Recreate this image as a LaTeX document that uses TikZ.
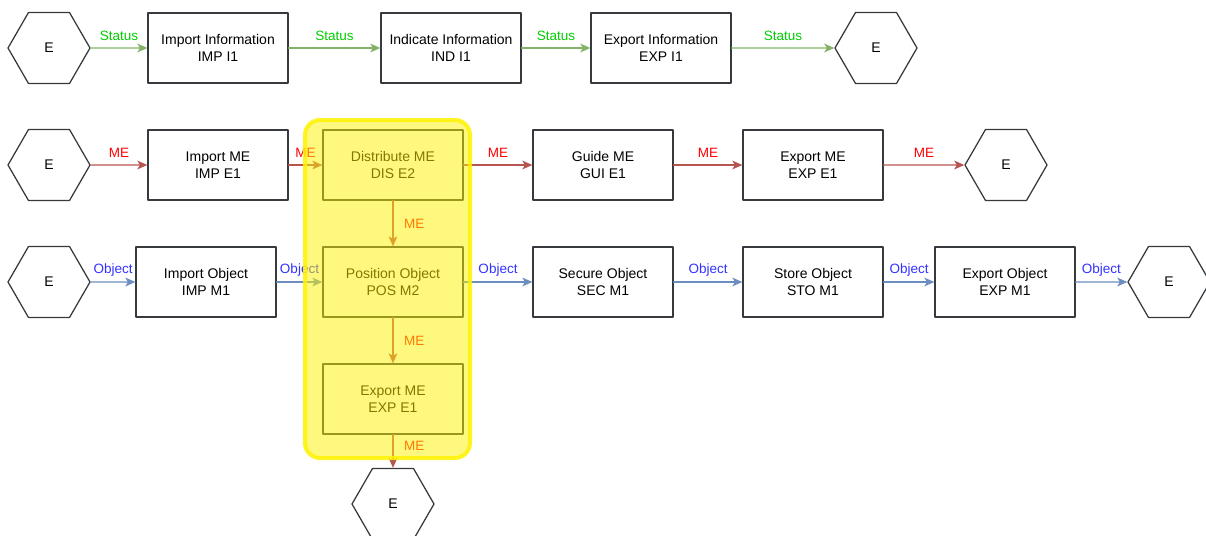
\documentclass[tikz,border=0pt]{standalone}
\usepackage{fontspec}
\setmainfont{Liberation Sans}
\usetikzlibrary{arrows.meta,shapes.geometric}

\definecolor{boxline}{HTML}{36393D}
\definecolor{statusline}{HTML}{82B366}
\definecolor{statustext}{HTML}{00CC00}
\definecolor{meline}{HTML}{B85450}
\definecolor{metext}{HTML}{FF0000}
\definecolor{objline}{HTML}{6C8EBF}
\definecolor{objtext}{HTML}{3333FF}

\tikzset{
  block/.style={draw=boxline, line width=1pt, minimum width=112pt, minimum height=56pt,
    inner sep=0pt, align=center, font=\fontsize{11.2pt}{13.6pt}\selectfont},
  ends/.style={draw=boxline, line width=1pt, regular polygon, regular polygon sides=6,
    minimum size=65.6pt, inner sep=0pt, font=\fontsize{11.2pt}{13.6pt}\selectfont},
  flow/.style={line width=1.1pt, -{Stealth[length=8pt,width=7pt,inset=2pt]}},
  statusflow/.style={flow, statusline},
  meflow/.style={flow, meline},
  objflow/.style={flow, objline},
  flowlab/.style={midway, font=\fontsize{10.8pt}{13pt}\selectfont},
  statuslab/.style={flowlab, above=2pt, text=statustext},
  melab/.style={flowlab, above=2pt, text=metext},
  objlab/.style={flowlab, above=0.5pt, text=objtext},
  downlab/.style={flowlab, right=5pt, text=metext}
}

\begin{document}
\begin{tikzpicture}[line cap=round, line join=round, x=0.8pt, y=-0.8pt]
  \clip (0,0) rectangle (1206,536);

  % information row
  \node[ends]  (inI)  at (49,48)  {E};
  \node[block] (impI) at (218,48) {Import Information\\IMP I1};
  \node[block] (indI) at (451,48) {Indicate Information\\IND I1};
  \node[block] (expI) at (661,48) {Export Information\\EXP I1};
  \node[ends]  (outI) at (876,48) {E};

  % ME row, with the branch down through the highlighted column
  \node[ends]  (inE)  at (49,165)   {E};
  \node[block] (impE) at (218,165)  {Import ME\\IMP E1};
  \node[block] (disE) at (393,165)  {Distribute ME\\DIS E2};
  \node[block] (guiE) at (603,165)  {Guide ME\\GUI E1};
  \node[block] (expE) at (813,165)  {Export ME\\EXP E1};
  \node[ends]  (outE) at (1006,165) {E};

  % object row
  \node[ends]  (inM)  at (49,282)   {E};
  \node[block] (impM) at (206,282)  {Import Object\\IMP M1};
  \node[block] (posM) at (393,282)  {Position Object\\POS M2};
  \node[block] (secM) at (603,282)  {Secure Object\\SEC M1};
  \node[block] (stoM) at (813,282)  {Store Object\\STO M1};
  \node[block] (expM) at (1005,282) {Export Object\\EXP M1};
  \node[ends]  (outM) at (1169,282) {E};

  \node[block] (expV) at (393,399) {Export ME\\EXP E1};
  \node[ends]  (outV) at (393,504) {E};

  \draw[statusflow] (inI)  -- node[statuslab] {Status} (impI);
  \draw[statusflow] (impI) -- node[statuslab] {Status} (indI);
  \draw[statusflow] (indI) -- node[statuslab] {Status} (expI);
  \draw[statusflow] (expI) -- node[statuslab] {Status} (outI);

  \draw[meflow] (inE)  -- node[melab] {ME} (impE);
  \draw[meflow] (impE) -- node[melab] {ME} (disE);
  \draw[meflow] (disE) -- node[melab] {ME} (guiE);
  \draw[meflow] (guiE) -- node[melab] {ME} (expE);
  \draw[meflow] (expE) -- node[melab] {ME} (outE);

  \draw[objflow] (inM)  -- node[objlab] {Object} (impM);
  \draw[objflow] (impM) -- node[objlab] {Object} (posM);
  \draw[objflow] (posM) -- node[objlab] {Object} (secM);
  \draw[objflow] (secM) -- node[objlab] {Object} (stoM);
  \draw[objflow] (stoM) -- node[objlab] {Object} (expM);
  \draw[objflow] (expM) -- node[objlab] {Object} (outM);

  \draw[meflow] (disE) -- node[downlab] {ME} (posM);
  \draw[meflow] (posM) -- node[downlab] {ME} (expV);
  \draw[meflow] (expV) -- node[downlab, pos=0.35] {ME} (outV);

  % translucent highlight laid over the middle column
  \fill[yellow, fill opacity=0.5, rounded corners=12pt] (305,120) rectangle (470,458);
  \draw[yellow, draw opacity=0.85, line width=3.2pt, rounded corners=12pt] (305,120) rectangle (470,458);
\end{tikzpicture}
\end{document}
